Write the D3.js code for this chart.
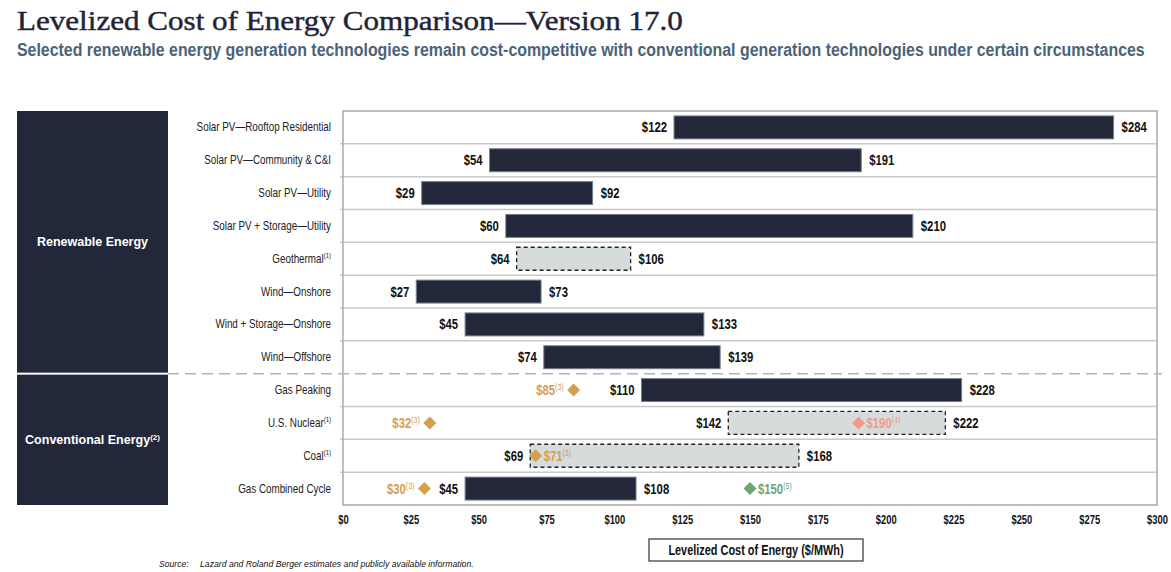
<!DOCTYPE html>
<html>
<head>
<meta charset="utf-8">
<script src="https://cdn.jsdelivr.net/npm/d3@7"></script>
<style>
  html, body { margin: 0; padding: 0; background: #fff; }
  svg { display: block; }
</style>
</head>
<body>
<svg id="chart" width="1171" height="572"></svg>
<script>
// ---------------- DATA ----------------
const categories = [
  "Solar PV\u2014Rooftop Residential",
  "Solar PV\u2014Community & C&I",
  "Solar PV\u2014Utility",
  "Solar PV + Storage\u2014Utility",
  "Geothermal",
  "Wind\u2014Onshore",
  "Wind + Storage\u2014Onshore",
  "Wind\u2014Offshore",
  "Gas Peaking",
  "U.S. Nuclear",
  "Coal",
  "Gas Combined Cycle"
];
const categoryNotes = ["", "", "", "", "(1)", "", "", "", "", "(1)", "(1)", ""];
const lowValues  = [122, 54, 29, 60, 64, 27, 45, 74, 110, 142, 69, 45];
const highValues = [284, 191, 92, 210, 106, 73, 133, 139, 228, 222, 168, 108];
// "indicative" ranges are drawn with a dashed outline
const rangeTypes = ["firm", "firm", "firm", "firm", "indicative", "firm", "firm", "firm",
                    "firm", "indicative", "indicative", "firm"];

const groupNames  = ["Renewable Energy", "Conventional Energy"];
const groupNotes  = ["", "(2)"];
const groupCounts = [8, 4];

const markerCategories = ["Gas Peaking", "U.S. Nuclear", "U.S. Nuclear", "Coal", "Gas Combined Cycle", "Gas Combined Cycle"];
const markerValues     = [85, 32, 190, 71, 30, 150];
const markerNotes      = ["(3)", "(3)", "(4)", "(3)", "(3)", "(5)"];

const tickValues = [0, 25, 50, 75, 100, 125, 150, 175, 200, 225, 250, 275, 300];

const titleText = "Levelized Cost of Energy Comparison\u2014Version 17.0";
const subtitleText = "Selected renewable energy generation technologies remain cost-competitive with conventional generation technologies under certain circumstances";
const axisTitle = "Levelized Cost of Energy ($/MWh)";
const sourceLabel = "Source:";
const sourceText = "Lazard and Roland Berger estimates and publicly available information.";

// ---------------- STYLE ----------------
const SANS = "'Liberation Sans', Arial, sans-serif";
const SERIF = "'Liberation Serif', 'Times New Roman', serif";
const navy = "#222839";
const noteColors = { "(3)": "#d4a04f", "(4)": "#f29a8b", "(5)": "#6fa474" };
const NARROW_X = 0.82;

const svg = d3.select("#chart");

// condensed text helper (no narrow font is installed)
function ntext(parent, x, y, anchor, sx = NARROW_X) {
  return parent.append("text")
    .attr("transform", `translate(${x},${y}) scale(${sx},1)`)
    .attr("text-anchor", anchor)
    .attr("font-family", SANS);
}
// fit a text to a given width by horizontal scaling
function fitWidth(sel, x, y, width) {
  const len = sel.node().getComputedTextLength();
  sel.attr("transform", `translate(${x},${y}) scale(${width / len},1)`);
  return sel;
}

const plot = { left: 343, right: 1157, top: 111, bottom: 505 };
const x = d3.scaleLinear().domain([0, 300]).range([plot.left, plot.right]);
const y = d3.scaleBand().domain(categories).range([plot.top, plot.bottom])
  .paddingInner(0.3).paddingOuter(0.15);
const step = y.step();
const rowTop = i => plot.top + i * step;

// ---------------- TITLES ----------------
fitWidth(svg.append("text")
  .attr("font-family", SERIF).attr("font-size", 28)
  .attr("fill", "#1f2537").attr("stroke", "#1f2537").attr("stroke-width", 0.45)
  .text(titleText), 17, 30, 666);

fitWidth(svg.append("text")
  .attr("font-family", SANS).attr("font-size", 17.5).attr("font-weight", "bold")
  .attr("fill", "#4a6378")
  .text(subtitleText), 17, 56, 1128);

// ---------------- LEFT GROUP PANELS ----------------
let start = 0;
groupNames.forEach((g, gi) => {
  const y0 = rowTop(start) + (gi === 0 ? 0 : 1);
  const y1 = rowTop(start + groupCounts[gi]) - (gi === 0 ? 1 : 0);
  svg.append("rect")
    .attr("x", 17).attr("y", y0).attr("width", 151).attr("height", y1 - y0)
    .attr("fill", navy);
  const t = svg.append("text")
    .attr("x", 92.5).attr("y", (y0 + y1) / 2 + 4)
    .attr("text-anchor", "middle")
    .attr("font-family", SANS).attr("font-size", 12.5).attr("font-weight", "bold")
    .attr("fill", "#ffffff");
  t.append("tspan").text(g);
  if (groupNotes[gi]) {
    t.append("tspan").attr("font-size", 8).attr("dy", -4).text(groupNotes[gi]);
  }
  start += groupCounts[gi];
});

// ---------------- PLOT FRAME & GRID ----------------
const grid = svg.append("g");
categories.forEach((c, i) => {
  if (i === 0) return;
  if (i === groupCounts[0]) return; // dashed separator drawn separately
  grid.append("line")
    .attr("x1", plot.left - 3).attr("x2", plot.right)
    .attr("y1", rowTop(i)).attr("y2", rowTop(i))
    .attr("stroke", "#c9c9c9").attr("stroke-width", 1.5);
});
svg.append("rect")
  .attr("x", plot.left).attr("y", plot.top)
  .attr("width", plot.right - plot.left).attr("height", plot.bottom - plot.top)
  .attr("fill", "none").attr("stroke", "#aaaaaa").attr("stroke-width", 1.5);

svg.append("line")
  .attr("x1", 168).attr("x2", 1162)
  .attr("y1", rowTop(groupCounts[0])).attr("y2", rowTop(groupCounts[0]))
  .attr("stroke", "#b5b5b5").attr("stroke-width", 1.5)
  .attr("stroke-dasharray", "11,6");

// ---------------- CATEGORY LABELS ----------------
categories.forEach((c, i) => {
  const t = ntext(svg, 331, y(c) + y.bandwidth() / 2 + 4, "end", 0.8)
    .attr("font-size", 12.3).attr("fill", "#222");
  t.append("tspan").text(c);
  if (categoryNotes[i]) {
    t.append("tspan").attr("font-size", 7.5).attr("dy", -5).text(categoryNotes[i]);
  }
});

// ---------------- BARS ----------------
const rows = categories.map((c, i) => ({ c, lo: lowValues[i], hi: highValues[i], type: rangeTypes[i] }));

svg.append("g").selectAll("rect")
  .data(rows)
  .join("rect")
  .attr("x", d => x(d.lo))
  .attr("y", d => y(d.c))
  .attr("width", d => x(d.hi) - x(d.lo))
  .attr("height", y.bandwidth())
  .attr("fill", d => d.type === "firm" ? navy : "#d6dbdb")
  .attr("stroke", d => d.type === "firm" ? "#7a8090" : "#222")
  .attr("stroke-width", d => d.type === "firm" ? 1 : 1.3)
  .attr("stroke-dasharray", d => d.type === "firm" ? null : "4,3");

const valFmt = v => "$" + v;
const labels = svg.append("g");
rows.forEach(d => {
  const cy = y(d.c) + y.bandwidth() / 2 + 5;
  ntext(labels, x(d.lo) - 7, cy, "end", 0.78)
    .attr("font-size", 14.5).attr("font-weight", "bold").attr("fill", "#111")
    .text(valFmt(d.lo));
  ntext(labels, x(d.hi) + 8, cy, "start", 0.78)
    .attr("font-size", 14.5).attr("font-weight", "bold").attr("fill", "#111")
    .text(valFmt(d.hi));
});

// ---------------- MARKERS ----------------
const markers = markerCategories.map((c, i) => {
  const idx = categories.indexOf(c);
  return { c, v: markerValues[i], note: markerNotes[i], left: markerValues[i] < lowValues[idx] };
});
const diamond = r => `M0,${-r}L${r},0L0,${r}L${-r},0Z`;
const mg = svg.append("g");
markers.forEach(m => {
  const cx = x(m.v), cy = y(m.c) + y.bandwidth() / 2;
  const col = noteColors[m.note];
  mg.append("path").attr("d", diamond(6.5))
    .attr("transform", `translate(${cx},${cy})`)
    .attr("fill", col);
  const t = ntext(mg, m.left ? cx - 10 : cx + 8, cy + 5, m.left ? "end" : "start", 0.78)
    .attr("font-size", 14.5).attr("font-weight", "bold")
    .attr("fill", col);
  t.append("tspan").text(valFmt(m.v));
  t.append("tspan").attr("font-size", 9).attr("font-weight", "normal").attr("dy", -5).text(m.note);
});

// ---------------- AXIS ----------------
const axis = d3.axisBottom(x).tickValues(tickValues).tickSize(0).tickPadding(0)
  .tickFormat(d => "$" + d);
const ag = svg.append("g").attr("transform", `translate(0,${plot.bottom + 10})`).call(axis);
ag.select(".domain").remove();
ag.selectAll("text")
  .attr("font-family", SANS).attr("font-size", 12.5).attr("font-weight", "bold")
  .attr("fill", "#111").attr("dy", "0.71em")
  .attr("transform", "scale(0.75,1)");

// axis title box
svg.append("rect")
  .attr("x", 649).attr("y", 539).attr("width", 214).attr("height", 22)
  .attr("fill", "#fff").attr("stroke", "#333").attr("stroke-width", 1.2);
ntext(svg, 756, 555, "middle", 0.78)
  .attr("font-size", 14).attr("font-weight", "bold")
  .attr("fill", "#111")
  .text(axisTitle);

// ---------------- SOURCE ----------------
svg.append("text")
  .attr("x", 159).attr("y", 567)
  .attr("font-family", SANS).attr("font-size", 8.6).attr("font-style", "italic").attr("fill", "#111")
  .text(sourceLabel);
fitWidth(svg.append("text")
  .attr("font-family", SANS).attr("font-size", 8.6).attr("font-style", "italic").attr("fill", "#111")
  .text(sourceText), 200, 567, 274);
</script>
</body>
</html>
